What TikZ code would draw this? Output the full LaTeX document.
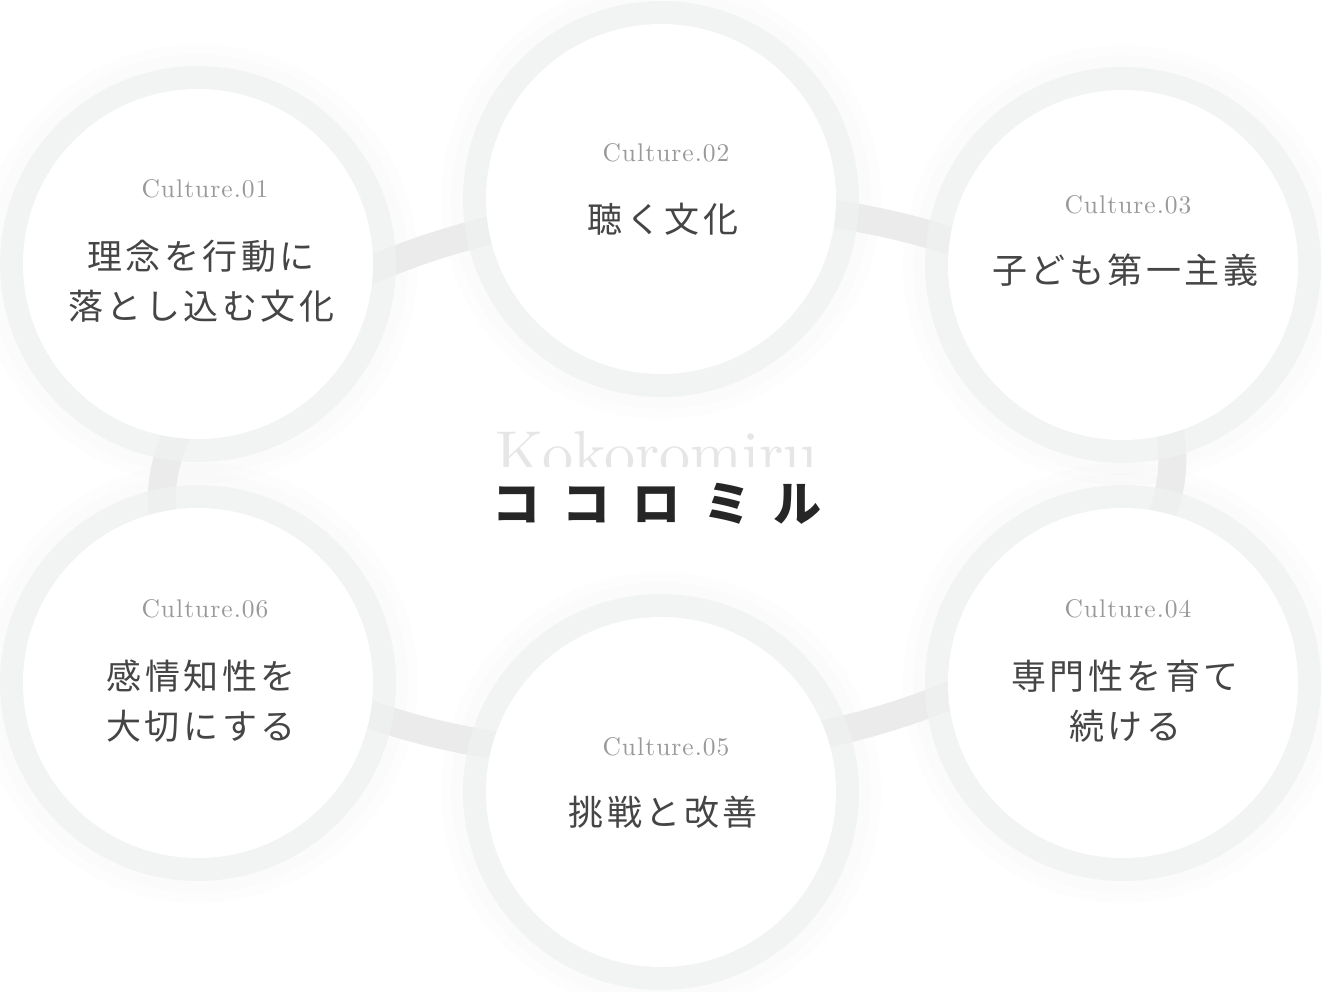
\documentclass[tikz,border=0pt]{standalone}
\usepackage{fontspec}
\newfontfamily\jpfont[LetterSpace=10]{Noto Sans CJK JP}
\newfontfamily\logofont[LetterSpace=46]{Noto Sans CJK JP}
\newfontfamily\culfont[LetterSpace=4]{lmroman10-regular.otf}
\newfontfamily\enfont{lmroman10-regular.otf}
\definecolor{bandgray}{HTML}{EBEBEB}
\definecolor{ringgray}{HTML}{F0F1F1}
\definecolor{textgray}{HTML}{454545}
\definecolor{numgray}{HTML}{999999}
\definecolor{logogray}{HTML}{E6E6E6}
\definecolor{logoblack}{HTML}{262626}

\begin{document}
\begin{tikzpicture}[x=1pt,y=1pt,
  halo/.style={circle,inner sep=0pt,minimum size=#1,fill=black,fill opacity=0.007},
  ring/.style={circle,inner sep=0pt,minimum size=396pt,fill=ringgray,fill opacity=0.75},
  disc/.style={circle,inner sep=0pt,minimum size=350pt,fill=white},
  band/.style={draw=bandgray,line width=28pt},
  culnum/.style={font=\culfont\fontsize{25.5}{25.5}\selectfont,text=numgray,inner sep=0pt},
  jptext/.style={font=\jpfont\fontsize{35}{50}\selectfont,text=textgray,align=center,inner sep=0pt}]
\path[fill=white,use as bounding box] (0,0) rectangle (1322,-992);
\foreach \cx/\cy [count=\i] in {198/-264,661/-199,1123/-265,1123/-683,661/-792,198/-683}{
  \node[halo=440pt] (ha\i) at (\cx,\cy) {};
  \node[halo=420pt] (hb\i) at (\cx,\cy) {};
}
\draw[band,rotate around={3.4:(667,-480)}] (667,-480) ellipse [x radius=506, y radius=274];
\node[ring] (c1) at (198,-264) {};
\node[ring] (c2) at (661,-199) {};
\node[ring] (c3) at (1123,-265) {};
\node[ring] (c4) at (1123,-683) {};
\node[ring] (c5) at (661,-792) {};
\node[ring] (c6) at (198,-683) {};
\node[disc] (d1) at (c1) {};
\node[disc] (d2) at (c2) {};
\node[disc] (d3) at (c3) {};
\node[disc] (d4) at (c4) {};
\node[disc] (d5) at (c5) {};
\node[disc] (d6) at (c6) {};
\node[culnum] (n1) at (205,-189) {Culture.01};
\node[jptext] (t1) at (201,-281) {理念を行動に\\落とし込む文化};
\node[culnum] (n2) at (666,-153) {Culture.02};
\node[jptext] (t2) at (663,-219) {聴く文化};
\node[culnum] (n3) at (1128,-205) {Culture.03};
\node[jptext] (t3) at (1125,-270) {子ども第一主義};
\node[culnum] (n4) at (1128,-609) {Culture.04};
\node[jptext] (t4) at (1125,-701) {専門性を育て\\続ける};
\node[culnum] (n5) at (666,-747) {Culture.05};
\node[jptext] (t5) at (663,-812) {挑戦と改善};
\node[culnum] (n6) at (205,-609) {Culture.06};
\node[jptext] (t6) at (201,-701) {感情知性を\\大切にする};
\begin{scope}
\clip (400,-400) rectangle (900,-466);
\node[font=\enfont\fontsize{62}{62}\selectfont,text=logogray,inner sep=0pt,anchor=base] (logoen) at (657,-474) {Kokoromiru};
\end{scope}
\node[font=\logofont\bfseries\fontsize{48}{48}\selectfont,text=logoblack,inner sep=0pt] (logojp) at (657,-504) {ココロミル};
\end{tikzpicture}
\end{document}
